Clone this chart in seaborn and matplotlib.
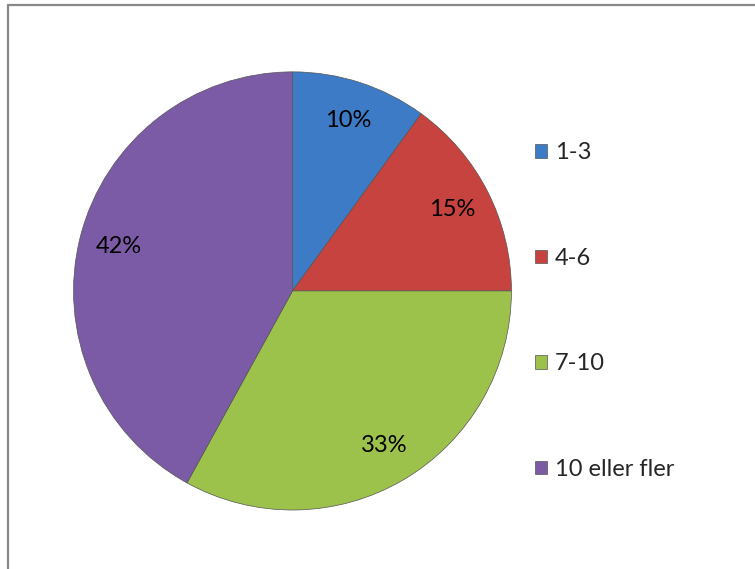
import matplotlib
matplotlib.use("Agg")
import matplotlib.pyplot as plt
import seaborn as sns
from matplotlib.lines import Line2D


categories = ["1-3", "4-6", "7-10", "10 eller fler"]
shares = [10, 15, 33, 42]
colors = ["#3d7bc7", "#c6433f", "#9dc24c", "#7b5ba6"]


sns.set_style("white")
plt.rcParams["font.family"] = ["Lato", "DejaVu Sans"]

fig = plt.figure(figsize=(7.55, 5.69), dpi=100)

# pie sits in a square box around its centre
ax = fig.add_axes([0.0974, 0.1037, 0.580, 0.770])

wedges, texts, autotexts = ax.pie(
    shares,
    colors=sns.color_palette(colors),
    startangle=90,
    counterclock=False,
    autopct="%1.0f%%",
    pctdistance=0.82,
    radius=1.0,
    wedgeprops=dict(edgecolor="#555555", linewidth=0.5),
    textprops=dict(fontsize=17, color="black")
)

ax.set_xlim(-1, 1)
ax.set_ylim(-1, 1)
ax.set_aspect("auto")
ax.axis("off")

fig.legend(
    wedges,
    categories,
    loc="center left",
    bbox_to_anchor=(535 / 755, 1 - 311 / 569),
    frameon=False,
    fontsize=17,
    handlelength=0.5,
    handleheight=0.5,
    handletextpad=0.35,
    labelspacing=3.58,
    borderpad=0,
    borderaxespad=0
)

# frame edges left and top (chart is cropped on the other sides)
fig.add_artist(Line2D([8 / 755, 8 / 755], [0, 1 - 5 / 569],
                      transform=fig.transFigure, color="#888888", linewidth=1.6))
fig.add_artist(Line2D([8 / 755, 1], [1 - 5 / 569, 1 - 5 / 569],
                      transform=fig.transFigure, color="#888888", linewidth=1.6))

fig.savefig("out.png", dpi=100)
